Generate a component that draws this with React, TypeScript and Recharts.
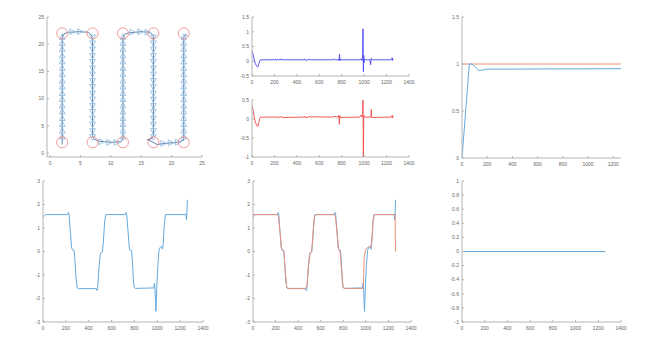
import React from "react"
import { LineChart, Line, ScatterChart, Scatter, XAxis, YAxis } from "recharts"

// ── Style ────────────────────────────────────────────────
const FONT = "'Liberation Sans', Arial, sans-serif"
const AXIS = "#b4b4b4"
const LABEL = "#666"
const BLUE = "#64aadf"
const ORANGE = "#ec9079"

// ── Tick labels ──────────────────────────────────────────
const ticks1400 = [0, 200, 400, 600, 800, 1000, 1200, 1400]
const ticks1200 = [0, 200, 400, 600, 800, 1000, 1200]
const ticks25 = [0, 5, 10, 15, 20, 25]
const ticksErrTop = [-0.5, 0, 0.5, 1, 1.5]
const ticksErrBottom = [-1, -0.5, 0, 0.5]
const ticksSpeed = [0, 0.5, 1, 1.5]
const ticksAngle = [-3, -2, -1, 0, 1, 2, 3]
const ticksUnit = [-1, -0.8, -0.6, -0.4, -0.2, 0, 0.2, 0.4, 0.6, 0.8, 1]

// ── Panel 1: path, waypoints, direction markers ──────────
const waypointX = [2, 7, 12, 17, 22]
const waypointY = [2, 22]
const upLegX = [2, 12, 22]
const downLegX = [7, 17]
const legY = [3.0, 4.1, 5.3, 6.4, 7.6, 8.7, 9.9, 11.0, 12.2, 13.3, 14.5, 15.6, 16.8, 17.9, 19.1, 20.2, 21.3]
const rightMarks: [number, number][] = [
  [3.6, 22.3], [4.9, 22.3],
  [8.4, 2.1], [9.7, 2.0], [10.9, 2.0],
  [13.5, 22.2], [14.8, 22.3], [16.0, 22.2],
  [18.6, 1.8], [19.8, 1.9], [21.0, 2.0],
]
const pathPts: [number, number][] = [
  [2, 1.6], [2, 21.3], [2.3, 21.9], [3, 22.2], [5, 22.3], [6.3, 22.2], [6.9, 21.5],
  [7, 20.5], [7, 3.2], [7.2, 2.6], [8, 2.2], [10, 2.0], [11.7, 2.1], [12, 2.6],
  [12, 21.3], [12.4, 21.9], [13, 22.1], [15, 22.3], [16.5, 22.2], [17, 21.5],
  [17, 3.2], [16.6, 2.6], [16, 2.5], [16.8, 2.1], [17.6, 1.6], [19, 1.8], [21, 2.0],
  [22, 2.4], [22, 21.3], [22.3, 21.8], [22.6, 21.5],
]

// ── Panel 2 / 3: error signals ───────────────────────────
const errBlue: [number, number][] = [
  [0, 0.36], [8, 0.25], [18, 0.08], [30, -0.08], [42, -0.17], [52, -0.2], [60, -0.1],
  [70, 0.03], [80, 0.05], [200, 0.05], [210, 0.08], [215, 0.03], [225, 0.06], [250, 0.05],
  [260, 0.08], [265, 0.04], [275, 0.05], [460, 0.05], [470, 0.08], [475, 0.03], [500, 0.05],
  [510, 0.07], [515, 0.05], [720, 0.05], [730, 0.08], [735, 0.05], [770, 0.05], [775, 0.02],
  [778, 0.12], [781, 0.24], [784, 0.02], [788, 0.08], [792, 0.05], [960, 0.05], [975, 0.08],
  [980, 0.02], [986, 0.1], [990, 1.1], [993, -0.35], [996, 0.2], [999, -0.05], [1003, 0.08],
  [1010, 0.05], [1050, 0.05], [1058, -0.12], [1062, 0.1], [1066, 0.04], [1075, 0.05],
  [1245, 0.05], [1250, 0.12], [1255, 0.03], [1260, 0.07],
]
const errRed: [number, number][] = [
  [0, 0.36], [8, 0.25], [18, 0.08], [30, -0.08], [42, -0.17], [52, -0.2], [60, -0.1],
  [70, 0.03], [80, 0.05], [200, 0.05], [210, 0.07], [215, 0.04], [250, 0.05], [260, 0.07],
  [265, 0.04], [460, 0.05], [470, 0.08], [475, 0.03], [510, 0.06], [720, 0.05], [730, 0.07],
  [770, 0.05], [775, 0.1], [779, -0.14], [783, 0.08], [788, 0.04], [960, 0.05], [970, 0.1],
  [980, 0.05], [986, 0.15], [990, 0.5], [993, -1], [997, 0.1], [1003, 0.05], [1050, 0.05],
  [1060, 0.05], [1064, 0.25], [1068, 0.04], [1245, 0.05], [1250, 0.1], [1255, 0.03], [1260, 0.06],
]

// ── Panel 4: speed reference vs response ─────────────────
const speedRef: [number, number][] = [[0, 1], [1261, 1]]
const speedOut: [number, number][] = [
  [0, 0], [58, 1.0], [80, 1.0], [135, 0.93], [200, 0.945], [1261, 0.95],
]

// ── Panel 5 / 6: heading angle ───────────────────────────
const heading: [number, number][] = [
  [0, 1.47], [10, 1.52], [20, 1.57], [215, 1.57], [222, 1.66], [228, 1.6], [240, 0.8],
  [250, 0.18], [258, 0.06], [272, 0.05], [278, -0.3], [290, -1.2], [300, -1.55], [310, -1.58],
  [465, -1.58], [472, -1.66], [478, -1.55], [490, -0.7], [500, -0.15], [508, -0.04],
  [520, -0.02], [528, 0.4], [540, 1.3], [550, 1.57], [720, 1.57], [726, 1.66], [732, 1.58],
  [745, 0.8], [755, 0.15], [762, 0.06], [775, 0.05], [782, -0.4], [792, -1.3], [800, -1.55],
  [810, -1.57], [970, -1.55], [975, -1.35], [980, -1.6], [988, -2.55], [995, -1.6],
  [1005, -0.6], [1015, 0.05], [1025, 0.18], [1040, 0.22], [1046, 0.1], [1052, 0.35],
  [1062, 1.2], [1072, 1.57], [1250, 1.57], [1255, 1.35], [1258, 1.5], [1263, 2.2],
]
const headingRef: [number, number][] = [
  [0, 1.57], [215, 1.57], [225, 1.5], [240, 0.8], [252, 0.15], [262, 0.05], [275, 0],
  [285, -0.8], [298, -1.5], [310, -1.57], [465, -1.57], [478, -1.45], [492, -0.6],
  [505, -0.1], [520, 0], [532, 0.8], [545, 1.5], [558, 1.57], [720, 1.57], [730, 1.5],
  [745, 0.8], [758, 0.1], [770, 0.03], [785, -0.8], [798, -1.5], [810, -1.57], [975, -1.57],
  [980, -1.2], [985, -0.3], [995, 0.05], [1010, 0.15], [1030, 0.2], [1045, 0.2], [1055, 0.6],
  [1065, 1.4], [1078, 1.57], [1260, 1.57], [1262, 0],
]

// ── Panel 7: lateral error ───────────────────────────────
const lateral: [number, number][] = [[0, 0], [1262, 0]]

// ─────────────────────────────────────────────────────────

type Box = { l: number; t: number; r: number; b: number }
const PAD_L = 30
const PAD_T = 5
const PAD_R = 6
const PAD_B = 16

const toRows = (pts: [number, number][]) => pts.map(([x, y]) => ({ x, y }))

function place(box: Box): React.CSSProperties {
  return { position: "absolute", left: box.l - PAD_L, top: box.t - PAD_T }
}
const w = (box: Box) => box.r - box.l + PAD_L + PAD_R
const h = (box: Box) => box.b - box.t + PAD_T + PAD_B
const margin = { top: PAD_T, right: PAD_R, left: 0, bottom: 0 }

function frame(xDomain: number[], yDomain: number[], xTicks: number[], yTicks: number[], yKey?: string) {
  const tick = { fontSize: 5, fill: LABEL, fontFamily: FONT }
  return [
    <XAxis
      key="xb"
      type="number"
      dataKey="x"
      domain={xDomain}
      ticks={xTicks}
      interval={0}
      allowDataOverflow
      height={PAD_B}
      stroke={AXIS}
      tickSize={-2}
      tickMargin={6}
      tick={tick}
    />,
    <XAxis
      key="xt"
      xAxisId="top"
      orientation="top"
      type="number"
      domain={xDomain}
      ticks={xTicks}
      interval={0}
      allowDataOverflow
      height={0}
      stroke={AXIS}
      tickSize={-2}
      tick={false}
    />,
    <YAxis
      key="yl"
      type="number"
      dataKey={yKey}
      domain={yDomain}
      ticks={yTicks}
      interval={0}
      allowDataOverflow
      width={PAD_L}
      stroke={AXIS}
      tickSize={-2}
      tickMargin={5}
      tick={tick}
    />,
    <YAxis
      key="yr"
      yAxisId="right"
      orientation="right"
      type="number"
      domain={yDomain}
      ticks={yTicks}
      interval={0}
      allowDataOverflow
      width={0}
      stroke={AXIS}
      tickSize={-2}
      tick={false}
    />,
  ]
}

function triangle(dir: "up" | "down" | "right") {
  return (p: any) => {
    const { cx, cy } = p
    let d = ""
    if (dir === "up") d = `M${cx},${cy - 3.4}L${cx + 2.9},${cy + 2.2}L${cx - 2.9},${cy + 2.2}Z`
    if (dir === "down") d = `M${cx},${cy + 3.4}L${cx + 2.9},${cy - 2.2}L${cx - 2.9},${cy - 2.2}Z`
    if (dir === "right") d = `M${cx + 3.4},${cy}L${cx - 2.2},${cy - 2.9}L${cx - 2.2},${cy + 2.9}Z`
    return <path d={d} fill="none" stroke="#86b9e0" strokeWidth={0.8} />
  }
}

const ringShape = (p: any) => (
  <circle cx={p.cx} cy={p.cy} r={5.5} fill="none" stroke="#ef8f8f" strokeWidth={0.9} />
)
const noShape = () => <g />

function PathPanel({ box }: { box: Box }) {
  const rings = waypointY.flatMap((y) => waypointX.map((x) => ({ x, y })))
  const ups = upLegX.flatMap((x) => legY.map((y) => ({ x, y })))
  const downs = downLegX.flatMap((x) => legY.map((y) => ({ x, y })))
  return (
    <div style={place(box)}>
      <ScatterChart width={w(box)} height={h(box)} margin={margin}>
        {frame([-0.5, 25], [-0.7, 25], ticks25, ticks25, "y")}
        <Scatter
          data={toRows(pathPts)}
          line={{ stroke: "#3e5f8f", strokeWidth: 0.8 }}
          shape={noShape}
          isAnimationActive={false}
        />
        <Scatter data={ups} shape={triangle("up")} isAnimationActive={false} />
        <Scatter data={downs} shape={triangle("down")} isAnimationActive={false} />
        <Scatter data={toRows(rightMarks)} shape={triangle("right")} isAnimationActive={false} />
        <Scatter data={rings} shape={ringShape} isAnimationActive={false} />
      </ScatterChart>
    </div>
  )
}

function LinePanel({
  box,
  xDomain,
  yDomain,
  xTicks,
  yTicks,
  series,
}: {
  box: Box
  xDomain: number[]
  yDomain: number[]
  xTicks: number[]
  yTicks: number[]
  series: { pts: [number, number][]; color: string; width?: number }[]
}) {
  return (
    <div style={place(box)}>
      <LineChart width={w(box)} height={h(box)} margin={margin}>
        {frame(xDomain, yDomain, xTicks, yTicks)}
        {series.map((s, i) => (
          <Line
            key={i}
            data={toRows(s.pts)}
            dataKey="y"
            type="linear"
            stroke={s.color}
            strokeWidth={s.width ?? 1}
            dot={false}
            isAnimationActive={false}
          />
        ))}
      </LineChart>
    </div>
  )
}

export default function App() {
  return (
    <div
      style={{
        position: "absolute",
        left: 0,
        top: 0,
        width: 650,
        height: 358,
        background: "#fff",
        overflow: "hidden",
      }}
    >
      <PathPanel box={{ l: 47, t: 17, r: 202, b: 157 }} />
      <LinePanel
        box={{ l: 252, t: 17, r: 409, b: 76 }}
        xDomain={[0, 1400]}
        yDomain={[-0.5, 1.5]}
        xTicks={ticks1400}
        yTicks={ticksErrTop}
        series={[{ pts: errBlue, color: "#4848f2", width: 0.9 }]}
      />
      <LinePanel
        box={{ l: 252, t: 100, r: 409, b: 157 }}
        xDomain={[0, 1400]}
        yDomain={[-1, 0.5]}
        xTicks={ticks1400}
        yTicks={ticksErrBottom}
        series={[{ pts: errRed, color: "#f24848", width: 0.9 }]}
      />
      <LinePanel
        box={{ l: 462, t: 17, r: 621, b: 158 }}
        xDomain={[0, 1261]}
        yDomain={[0, 1.5]}
        xTicks={ticks1200}
        yTicks={ticksSpeed}
        series={[
          { pts: speedRef, color: ORANGE },
          { pts: speedOut, color: BLUE },
        ]}
      />
      <LinePanel
        box={{ l: 43, t: 181, r: 203, b: 322 }}
        xDomain={[0, 1400]}
        yDomain={[-3, 3]}
        xTicks={ticks1400}
        yTicks={ticksAngle}
        series={[{ pts: heading, color: BLUE }]}
      />
      <LinePanel
        box={{ l: 253, t: 181, r: 411, b: 322 }}
        xDomain={[0, 1400]}
        yDomain={[-3, 3]}
        xTicks={ticks1400}
        yTicks={ticksAngle}
        series={[
          { pts: heading, color: BLUE },
          { pts: headingRef, color: ORANGE },
        ]}
      />
      <LinePanel
        box={{ l: 462, t: 181, r: 621, b: 322 }}
        xDomain={[0, 1400]}
        yDomain={[-1, 1]}
        xTicks={ticks1400}
        yTicks={ticksUnit}
        series={[{ pts: lateral, color: BLUE }]}
      />
    </div>
  )
}
